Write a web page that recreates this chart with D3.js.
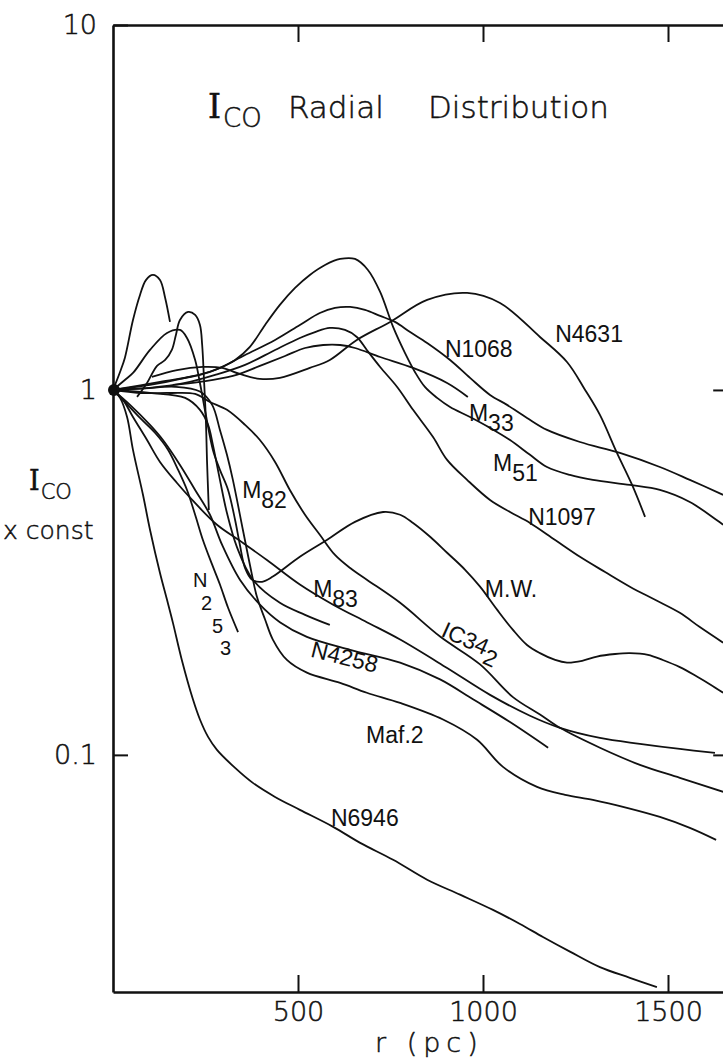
<!DOCTYPE html>
<html>
<head>
<meta charset="utf-8">
<script src="https://cdn.jsdelivr.net/npm/d3@7"></script>
<style>
  body { margin: 0; background: #fff; }
  svg text { fill: #111; }
  .tick text, .title, .axis-title { font-family: "DejaVu Sans", sans-serif; font-weight: 200; stroke: #111; stroke-width: 0.5px; }
  .serif { font-family: "DejaVu Serif", serif; }
  .lbl { font-family: "Liberation Sans", Arial, sans-serif; font-size: 23px; }
</style>
</head>
<body>
<script>
var svgWidth = 723;
var svgHeight = 1064;

var xTicks = [500, 1000, 1500];
var yTicks = [10, 1, 0.1];
var yTickText = ["10", "1", "0.1"];

// curves, r in pc and I_CO normalised to 1 at the centre
var spikeR = [0, 19, 32, 54, 73, 89, 108, 127, 141, 154];
var spikeI = [1, 1.12, 1.224, 1.555, 1.821, 2.0, 2.066, 2.0, 1.787, 1.536];

var ringR = [65, 92, 119, 141, 159, 170, 181, 203, 222, 235, 241, 246, 251, 254, 259];
var ringI = [0.957, 1.045, 1.164, 1.208, 1.287, 1.415, 1.555, 1.636, 1.605, 1.507, 1.328, 1.065, 0.828, 0.643, 0.469];

var mwR = [0, 32, 54, 100, 146, 181, 200, 222, 235, 251, 270, 289, 311, 330, 343, 357, 376, 403, 432, 505, 578, 654, 730, 776, 811, 857, 903, 951, 992, 1038, 1081, 1119, 1154, 1195, 1227, 1268, 1308, 1357, 1397, 1446, 1486, 1532, 1578, 1614, 1649];
var mwI = [1, 1.065, 1.113, 1.287, 1.433, 1.46, 1.388, 1.208, 1.045, 0.854, 0.685, 0.604, 0.532, 0.44, 0.376, 0.325, 0.302, 0.298, 0.308, 0.349, 0.388, 0.435, 0.463, 0.455, 0.432, 0.396, 0.358, 0.322, 0.289, 0.25, 0.22, 0.2, 0.19, 0.182, 0.179, 0.181, 0.186, 0.189, 0.19, 0.188, 0.182, 0.174, 0.164, 0.156, 0.148];

var n6946R = [0, 19, 38, 54, 81, 100, 127, 146, 162, 186, 216, 235, 257, 281, 330, 378, 438, 505, 595, 668, 757, 849, 938, 1027, 1100, 1162, 1235, 1316, 1397, 1470];
var n6946I = [1, 0.951, 0.843, 0.685, 0.516, 0.414, 0.315, 0.266, 0.23, 0.182, 0.142, 0.125, 0.112, 0.1032, 0.0921, 0.0838, 0.0767, 0.0707, 0.0635, 0.0574, 0.0516, 0.0455, 0.0414, 0.0376, 0.0344, 0.0317, 0.0289, 0.0262, 0.0245, 0.0231];

var n253R = [0, 32, 73, 114, 149, 176, 200, 222, 243, 268, 289, 311, 338];
var n253I = [1, 0.927, 0.838, 0.762, 0.685, 0.604, 0.532, 0.455, 0.388, 0.332, 0.293, 0.253, 0.217];

var m82R = [0, 73, 154, 222, 262, 308, 357, 397, 438, 478, 519, 559, 600, 641, 686, 776, 884, 992, 1081, 1154, 1208, 1316, 1424, 1532, 1649];
var m82I = [1, 0.981, 0.981, 0.975, 0.927, 0.882, 0.802, 0.729, 0.635, 0.532, 0.455, 0.401, 0.353, 0.325, 0.302, 0.261, 0.211, 0.177, 0.144, 0.129, 0.1186, 0.1046, 0.0939, 0.0865, 0.0792];

var m83R = [0, 27, 54, 92, 127, 173, 214, 281, 343, 416, 505, 595, 686, 776, 903, 1019, 1127, 1208, 1316, 1424, 1532, 1627];
var m83I = [1, 0.939, 0.843, 0.729, 0.635, 0.556, 0.4995, 0.427, 0.386, 0.342, 0.293, 0.258, 0.231, 0.207, 0.173, 0.146, 0.128, 0.1186, 0.1113, 0.1072, 0.1038, 0.1013];

var ic342R = [0, 46, 100, 135, 181, 222, 262, 295, 343, 397, 451, 524, 641, 776, 884, 973, 1073, 1176];
var ic342I = [1, 0.91, 0.802, 0.729, 0.623, 0.532, 0.455, 0.376, 0.302, 0.258, 0.231, 0.2105, 0.194, 0.179, 0.161, 0.142, 0.123, 0.1046];

var n4258R = [0, 100, 195, 235, 257, 270, 289, 308, 335, 378, 451, 519, 586];
var n4258I = [1, 0.981, 0.951, 0.882, 0.802, 0.707, 0.567, 0.46, 0.371, 0.302, 0.261, 0.242, 0.227];

var maf2R = [0, 86, 168, 235, 268, 289, 308, 324, 351, 370, 389, 411, 432, 470, 524, 614, 686, 776, 892, 984, 1054, 1146, 1222, 1297, 1389, 1478, 1559, 1630];
var maf2I = [1, 1.01, 1.02, 0.99, 0.91, 0.777, 0.664, 0.567, 0.414, 0.332, 0.271, 0.235, 0.207, 0.182, 0.168, 0.1575, 0.148, 0.1388, 0.125, 0.11, 0.0927, 0.0817, 0.0777, 0.0753, 0.0716, 0.0676, 0.0631, 0.0585];

var m51R = [0, 127, 235, 289, 330, 370, 411, 451, 492, 532, 573, 614, 654, 689, 722, 757, 789, 816, 843, 876, 911, 965, 1019, 1073, 1127, 1173, 1235, 1297, 1397, 1478, 1559, 1649];
var m51I = [1, 1.052, 1.099, 1.149, 1.208, 1.312, 1.507, 1.71, 1.903, 2.066, 2.2, 2.285, 2.285, 2.132, 1.856, 1.488, 1.263, 1.12, 1.019, 0.951, 0.898, 0.843, 0.787, 0.729, 0.664, 0.615, 0.585, 0.567, 0.549, 0.532, 0.493, 0.427];

var n1068R = [0, 100, 195, 276, 357, 438, 505, 559, 600, 641, 681, 722, 762, 803, 849, 911, 965, 1019, 1065, 1119, 1173, 1262, 1370, 1478, 1559, 1649];
var n1068I = [1, 1.032, 1.079, 1.134, 1.247, 1.371, 1.507, 1.625, 1.678, 1.688, 1.657, 1.595, 1.536, 1.441, 1.345, 1.208, 1.079, 0.969, 0.91, 0.838, 0.777, 0.72, 0.672, 0.615, 0.567, 0.516];

var n1097R = [0, 100, 195, 276, 357, 438, 505, 546, 586, 627, 659, 686, 722, 768, 811, 865, 903, 957, 1019, 1073, 1127, 1195, 1262, 1330, 1397, 1465, 1532, 1586, 1649];
var n1097I = [1, 1.013, 1.045, 1.099, 1.171, 1.287, 1.388, 1.441, 1.479, 1.46, 1.397, 1.287, 1.156, 1.019, 0.882, 0.743, 0.643, 0.567, 0.4995, 0.463, 0.432, 0.388, 0.349, 0.317, 0.289, 0.266, 0.245, 0.224, 0.203];

var m33R = [162, 235, 324, 397, 465, 519, 568, 614, 654, 722, 811, 903, 959];
var m33I = [1.032, 1.052, 1.092, 1.164, 1.239, 1.303, 1.328, 1.328, 1.303, 1.231, 1.149, 1.045, 0.957];

var n4631R = [105, 173, 243, 295, 343, 397, 451, 532, 586, 659, 749, 849, 957, 1046, 1154, 1227, 1276, 1316, 1362, 1403, 1438];
var n4631I = [1.086, 1.134, 1.156, 1.149, 1.106, 1.072, 1.079, 1.149, 1.208, 1.371, 1.536, 1.765, 1.844, 1.731, 1.397, 1.193, 1.0, 0.854, 0.672, 0.549, 0.449];

// curve labels: text, subscript, anchor (r, I)
var labelText = ["N1068", "N4631", "M", "M", "N1097", "M", "M.W.", "M", "Maf.2", "N6946"];
var labelSub = ["", "", "33", "51", "", "82", "", "83", "", ""];
var labelR = [897, 1195, 962, 1027, 1122, 349, 1005, 541, 684, 589];
var labelI = [1.231, 1.354, 0.823, 0.600, 0.427, 0.506, 0.271, 0.271, 0.108, 0.0640];

var curves = [
  [spikeR, spikeI], [ringR, ringI], [mwR, mwI], [n6946R, n6946I], [n253R, n253I],
  [m82R, m82I], [m83R, m83I], [ic342R, ic342I], [n4258R, n4258I], [maf2R, maf2I],
  [m51R, m51I], [n1068R, n1068I], [n1097R, n1097I], [m33R, m33I], [n4631R, n4631I]
].map(function(c){
  return c[0].map(function(r, i){ return [r, c[1][i]]; });
});

var xScale = d3.scaleLinear()
               .domain([0, 1650])
               .range([113, 723.5]);

var yScale = d3.scaleLog()
               .domain([0.0224, 10])
               .range([992, 25]);

const SVG = d3.select("body")
              .append("svg")
              .attr("width", svgWidth)
              .attr("height", svgHeight)
              .style("background-color", "white");

// frame and ticks
SVG.append("g")
   .attr("transform", "translate(0," + yScale(0.0224) + ")")
   .call(d3.axisBottom(xScale).tickValues(xTicks).tickSize(-17).tickSizeOuter(0).tickPadding(10).tickFormat(d3.format("d")))
   .call(function(g){ g.selectAll("text").style("font-size", "27px"); });

SVG.append("g")
   .attr("transform", "translate(0," + yScale(10) + ")")
   .call(d3.axisTop(xScale).tickValues(xTicks).tickSize(-17).tickSizeOuter(0).tickFormat(""));

SVG.append("g")
   .attr("transform", "translate(" + xScale(0) + ",0)")
   .call(d3.axisLeft(yScale).tickValues(yTicks).tickSize(-15).tickSizeOuter(0).tickPadding(16)
           .tickFormat(function(d, i){ return yTickText[i]; }))
   .call(function(g){ g.selectAll("text").style("font-size", "27px"); });

SVG.append("g")
   .attr("transform", "translate(" + xScale(1660) + ",0)")
   .call(d3.axisRight(yScale).tickValues([1, 0.1]).tickSize(-14).tickSizeOuter(0).tickFormat(""));

SVG.selectAll(".domain")
   .attr("stroke", "#111")
   .attr("stroke-width", 2.6);
SVG.selectAll(".tick line")
   .attr("stroke", "#111")
   .attr("stroke-width", 2);

var line = d3.line()
             .x((d) => xScale(d[0]))
             .y((d) => yScale(d[1]))
             .curve(d3.curveCatmullRom.alpha(0.5));

SVG.selectAll(".curve")
   .data(curves)
   .enter()
   .append("path")
   .attr("class", "curve")
   .attr("d", line)
   .attr("fill", "none")
   .attr("stroke", "#111")
   .attr("stroke-width", 1.8);

// the common normalisation point
SVG.append("circle")
   .attr("cx", xScale(0) + 1)
   .attr("cy", yScale(1))
   .attr("r", 6)
   .attr("fill", "#111");

// labels
SVG.selectAll(".lbl")
   .data(labelText)
   .enter()
   .append("text")
   .attr("class", "lbl")
   .attr("x", (d, i) => xScale(labelR[i]))
   .attr("y", (d, i) => yScale(labelI[i]))
   .each(function(d, i){
      var t = d3.select(this);
      t.append("tspan").text(d);
      if (labelSub[i]) t.append("tspan").attr("dy", 10).text(labelSub[i]);
   });

SVG.append("text")
   .attr("class", "lbl")
   .attr("transform", "translate(" + xScale(532) + "," + yScale(0.186) + ") rotate(14)")
   .text("N4258");

var ic = SVG.append("text")
   .attr("class", "lbl")
   .attr("transform", "translate(" + xScale(884) + "," + yScale(0.212) + ") rotate(24)");
ic.append("tspan").text("IC34");
ic.append("tspan").attr("dy", 8).text("2");

// N253 is written downwards, one character under the other
var n253x = [0, 8, 19, 27];
var n253y = [-2, 21, 44, 66];
SVG.append("text")
   .attr("class", "lbl")
   .style("font-size", "20px")
   .selectAll("tspan")
   .data(["N", "2", "5", "3"])
   .enter()
   .append("tspan")
   .attr("x", (d, i) => xScale(216) + n253x[i])
   .attr("y", (d, i) => yScale(0.284) + n253y[i])
   .text((d) => d);

// titles
var title = SVG.append("text")
   .attr("class", "title")
   .attr("x", 208)
   .attr("y", 118)
   .style("font-size", "33px");
title.append("tspan").attr("class", "serif").text("I");
title.append("tspan").attr("dy", 9).attr("dx", 2).style("font-size", "26px").text("CO");
title.append("tspan").attr("x", 288).attr("y", 118).style("font-size", "31px").text("Radial");
title.append("tspan").attr("x", 428).attr("y", 118).style("font-size", "31px").text("Distribution");

var yTitle = SVG.append("text")
   .attr("class", "axis-title")
   .attr("x", 29)
   .attr("y", 490)
   .style("font-size", "27px");
yTitle.append("tspan").attr("class", "serif").text("I");
yTitle.append("tspan").attr("dy", 9).attr("dx", 1).style("font-size", "21px").text("CO");

SVG.append("text")
   .attr("class", "axis-title")
   .attr("x", 3)
   .attr("y", 539)
   .style("font-size", "25px")
   .text("x const");

SVG.append("text")
   .attr("class", "axis-title")
   .attr("x", 375)
   .attr("y", 1052)
   .style("font-size", "27px")
   .style("letter-spacing", "6px")
   .text("r (pc)");
</script>
</body>
</html>
